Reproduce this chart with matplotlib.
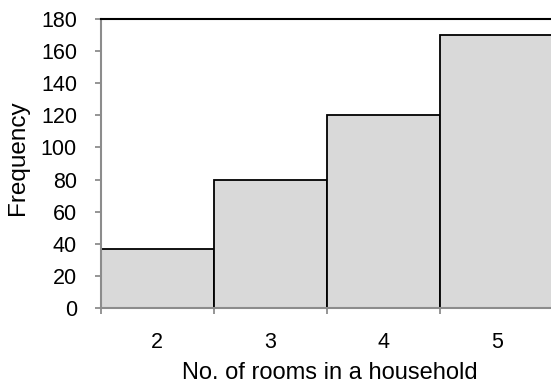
import matplotlib
matplotlib.use("Agg")
import matplotlib.pyplot as plt
import numpy as np

plt.rcParams['font.family'] = ['Liberation Sans', 'DejaVu Sans']

categories = [2, 3, 4, 5]
frequency = [37, 80, 120, 170]
yticks = list(range(0, 181, 20))

fig = plt.figure(figsize=(5.51, 3.87), dpi=100)
ax = fig.add_axes([100.5/551, 1 - 308/387, 453/551, 289/387])

ax.bar(categories, frequency, width=1.0, color='#d9d9d9', edgecolor='black', linewidth=1.3, zorder=2)

ax.set_xlim(1.5, 5.5)
ax.set_ylim(0, 180)
ax.set_yticks(yticks)
ax.set_xticks(categories)
ax.set_xticks([1.5, 2.5, 3.5, 4.5, 5.5], minor=True)

gray = '#8c8c8c'
for s in ['left', 'bottom']:
    ax.spines[s].set_color(gray)
    ax.spines[s].set_linewidth(1.5)
ax.spines['top'].set_color('black')
ax.spines['top'].set_linewidth(1.5)
ax.spines['right'].set_visible(False)

ax.tick_params(axis='y', direction='out', length=4.5, width=1.3, color=gray, labelsize=15.5, pad=12.5)
ax.tick_params(axis='x', which='major', length=0, labelsize=15.5, pad=17.5)
ax.tick_params(axis='x', which='minor', direction='out', length=4.5, width=1.3, color=gray)

ax.set_ylabel('Frequency', fontsize=17.5)
ax.yaxis.set_label_coords(-(100.5 - 29)/453, (308 - 157.5)/289)
ax.set_xlabel('No. of rooms in a household', fontsize=17)
ax.xaxis.set_label_coords((330 - 100.5)/453, -(362 - 308)/289)

fig.savefig('out.png', dpi=100)
